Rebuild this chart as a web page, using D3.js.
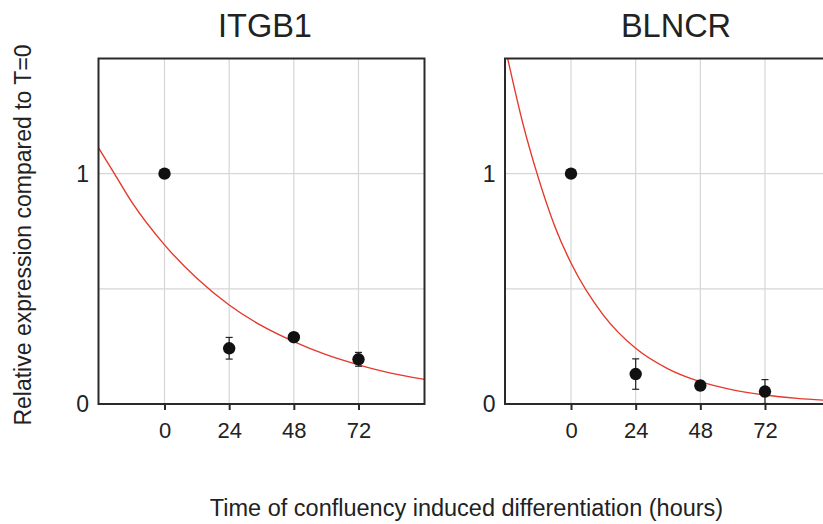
<!DOCTYPE html>
<html>
<head>
<meta charset="utf-8">
<script src="https://cdn.jsdelivr.net/npm/d3@7"></script>
<style>
  html, body { margin: 0; padding: 0; background: #fff; }
  svg { display: block; font-family: "Liberation Sans", Arial, sans-serif; }
</style>
</head>
<body>
<svg id="chart" width="823" height="524"></svg>
<script>
// ---- data ----
const panelTitles = ["ITGB1", "BLNCR"];
const timePoints = [0, 24, 48, 72];
const xTickValues = [0, 24, 48, 72];
const yTickValues = [0, 1];
const yGridValues = [0.5, 1];

const itgb1Mean = [1.0, 0.242, 0.29, 0.194];
const itgb1Err  = [0.0, 0.047, 0.02, 0.03];
const blncrMean = [1.0, 0.130, 0.080, 0.054];
const blncrErr  = [0.0, 0.066, 0.02, 0.052];

// fitted decay curves
const itgb1CurveT = [-24.5, -18.6, -12, 0, 12, 24, 36, 48, 60, 72, 84, 96.5];
const itgb1CurveY = [1.112, 1.0, 0.874, 0.691, 0.546, 0.430, 0.340, 0.271, 0.214, 0.170, 0.134, 0.107];
const blncrCurveT = [-23.5, -18, -12.6, -6, 0, 12, 24, 36, 48, 60, 72, 84, 96.5];
const blncrCurveY = [1.5, 1.224, 1.0, 0.771, 0.612, 0.386, 0.242, 0.153, 0.097, 0.0615, 0.039, 0.0246, 0.015];

const yAxisLabel = "Relative expression compared to T=0";
const xAxisLabel = "Time of confluency induced differentiation (hours)";

// ---- layout ----
const svg = d3.select("#chart");
const panelLeft = [98.5, 505];
const panelW = 326, plotTop = 58.5, plotBottom = 404;
const textColor = "#222";

const panels = [
  { title: panelTitles[0], mean: itgb1Mean, err: itgb1Err, ct: itgb1CurveT, cy: itgb1CurveY },
  { title: panelTitles[1], mean: blncrMean, err: blncrErr, ct: blncrCurveT, cy: blncrCurveY }
];

panels.forEach((p, i) => {
  const x0 = panelLeft[i];
  const x = d3.scaleLinear().domain([-24.5, 96.5]).range([x0, x0 + panelW]);
  const y = d3.scaleLinear().domain([0, 1.5]).range([plotBottom, plotTop]);
  const g = svg.append("g");

  const clipId = "clip" + i;
  svg.append("clipPath").attr("id", clipId)
    .append("rect").attr("x", x0).attr("y", plotTop).attr("width", panelW).attr("height", plotBottom - plotTop);

  // grid
  g.selectAll(".vg").data(xTickValues).enter().append("line")
    .attr("x1", d => x(d)).attr("x2", d => x(d)).attr("y1", plotTop).attr("y2", plotBottom)
    .attr("stroke", "#d6d6d6").attr("stroke-width", 1.2);
  g.selectAll(".hg").data(yGridValues).enter().append("line")
    .attr("x1", x0).attr("x2", x0 + panelW).attr("y1", d => y(d)).attr("y2", d => y(d))
    .attr("stroke", "#d6d6d6").attr("stroke-width", 1.2);

  // curve
  const line = d3.line().x(d => x(d[0])).y(d => y(d[1])).curve(d3.curveMonotoneX);
  g.append("path")
    .datum(p.ct.map((t, k) => [t, p.cy[k]]))
    .attr("clip-path", `url(#${clipId})`)
    .attr("d", line).attr("fill", "none").attr("stroke", "#e5392c").attr("stroke-width", 1.4);

  // frame
  g.append("rect").attr("x", x0).attr("y", plotTop).attr("width", panelW).attr("height", plotBottom - plotTop)
    .attr("fill", "none").attr("stroke", "#2a2a2a").attr("stroke-width", 2);

  // x axis
  const xa = g.append("g").attr("transform", `translate(0,${plotBottom})`)
    .call(d3.axisBottom(x).tickValues(xTickValues).tickSize(6).tickPadding(12).tickFormat(d3.format("d")));
  xa.select(".domain").remove();
  xa.selectAll(".tick line").attr("stroke", "#2a2a2a").attr("stroke-width", 2);
  xa.selectAll(".tick text").attr("fill", textColor).style("font-size", "22px")
    .style("font-family", "Liberation Sans, Arial, sans-serif");

  // y axis
  const ya = g.append("g").attr("transform", `translate(${x0},0)`)
    .call(d3.axisLeft(y).tickValues(yTickValues).tickSize(0).tickPadding(9.5).tickFormat(d3.format("d")));
  ya.select(".domain").remove();
  ya.selectAll(".tick text").attr("fill", textColor).style("font-size", "23px")
    .style("font-family", "Liberation Sans, Arial, sans-serif");

  // error bars
  const eb = g.append("g").attr("stroke", "#222").attr("stroke-width", 1.2);
  timePoints.forEach((t, k) => {
    if (p.err[k] <= 0) return;
    const cx = x(t), yTop = y(p.mean[k] + p.err[k]), yBot = y(p.mean[k] - p.err[k]);
    eb.append("line").attr("x1", cx).attr("x2", cx).attr("y1", yTop).attr("y2", yBot);
    eb.append("line").attr("x1", cx - 3.5).attr("x2", cx + 3.5).attr("y1", yTop).attr("y2", yTop);
    eb.append("line").attr("x1", cx - 3.5).attr("x2", cx + 3.5).attr("y1", yBot).attr("y2", yBot);
  });

  // points
  g.selectAll(".pt").data(timePoints).enter().append("circle")
    .attr("cx", d => x(d)).attr("cy", (d, k) => y(p.mean[k])).attr("r", 6.2)
    .attr("fill", "#111");

  // title
  svg.append("text").attr("x", x0 + panelW / 2 + (i === 0 ? 3.5 : 8)).attr("y", 37)
    .attr("text-anchor", "middle").attr("fill", textColor)
    .style("font-size", "32.5px").text(p.title);
});

// axis titles
svg.append("text").attr("transform", "translate(31,235) rotate(-90)")
  .attr("text-anchor", "middle").attr("fill", textColor).style("font-size", "23px").text(yAxisLabel);
svg.append("text").attr("x", 466.5).attr("y", 516)
  .attr("text-anchor", "middle").attr("fill", textColor).style("font-size", "23.5px").text(xAxisLabel);
</script>
</body>
</html>
